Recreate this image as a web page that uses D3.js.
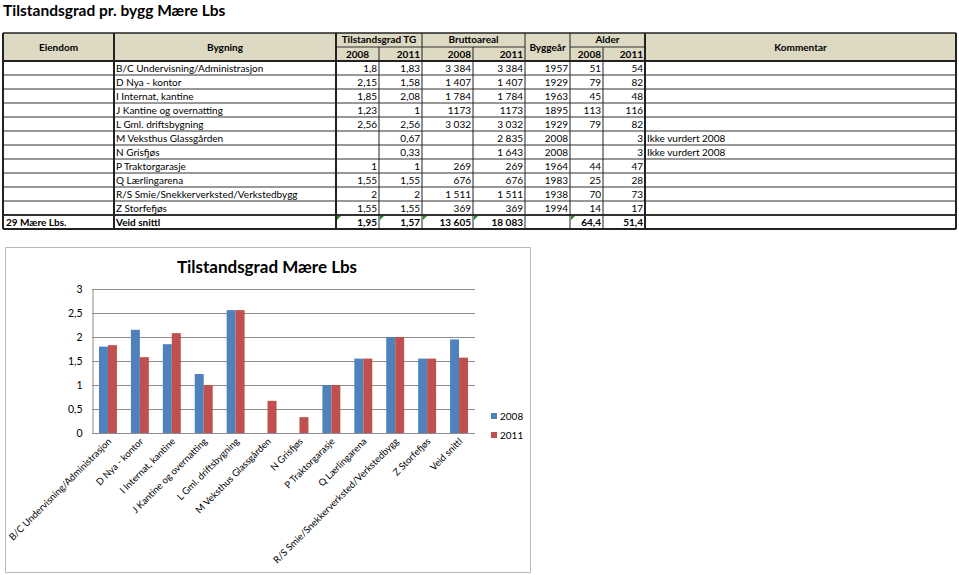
<!DOCTYPE html>
<html>
<head>
<meta charset="utf-8">
<script src="https://cdn.jsdelivr.net/npm/d3@7"></script>
<style>
  body { margin: 0; background: #fff; }
  svg { font-family: Lato, "Open Sans", sans-serif; }
</style>
</head>
<body>
<div id="chart"></div>
<script>
// table data, one entry per building
var buildings = ["B/C Undervisning/Administrasjon", "D Nya - kontor", "I Internat, kantine",
  "J Kantine og overnatting", "L Gml. driftsbygning", "M Veksthus Glassgården", "N Grisfjøs",
  "P Traktorgarasje", "Q Lærlingarena", "R/S Smie/Snekkerverksted/Verkstedbygg", "Z Storfefjøs"];
var tg2008 = [1.8, 2.15, 1.85, 1.23, 2.56, null, null, 1, 1.55, 2, 1.55];
var tg2011 = [1.83, 1.58, 2.08, 1, 2.56, 0.67, 0.33, 1, 1.55, 2, 1.55];
var area2008 = ["3 384", "1 407", "1 784", "1173", "3 032", "", "", "269", "676", "1 511", "369"];
var area2011 = ["3 384", "1 407", "1 784", "1173", "3 032", "2 835", "1 643", "269", "676", "1 511", "369"];
var builtYear = [1957, 1929, 1963, 1895, 1929, 2008, 2008, 1964, 1983, 1938, 1994];
var age2008 = [51, 79, 45, 113, 79, null, null, 44, 25, 70, 14];
var age2011 = [54, 82, 48, 116, 82, 3, 3, 47, 28, 73, 17];
var comments = ["", "", "", "", "", "Ikke vurdert 2008", "Ikke vurdert 2008", "", "", "", ""];

// summary row
var propertyName = "29 Mære Lbs.";
var avgLabel = "Veid snittl";
var avgTg = [1.95, 1.57];
var totalArea = ["13 605", "18 083"];
var avgAge = ["64,4", "51,4"];

// chart
var series = ["2008", "2011"];
var yTicks = [0, 0.5, 1, 1.5, 2, 2.5, 3];

var fmt = function(v) { return v == null ? "" : String(v).replace(".", ","); };

var W = 959, H = 575;
var svg = d3.select("#chart").append("svg").attr("width", W).attr("height", H);

svg.append("text").attr("x", 3).attr("y", 16)
  .style("font-size", "15.5px").style("font-weight", "bold").text("Tilstandsgrad pr. bygg Mære Lbs");

/* ---------- table ---------- */
// column edges: Eiendom, Bygning, TG08, TG11, BA08, BA11, Byggeår, Alder08, Alder11, Kommentar
var colX = [3, 114, 336, 379, 422, 473, 525, 570, 603, 645, 956];
var headTop = 33, headMid = 47, headBot = 61, rowH = 14;
var nRows = buildings.length + 1;
var tableBot = headBot + nRows * rowH;
var tbl = svg.append("g").style("font-size", "10px");

tbl.append("rect").attr("x", colX[0]).attr("y", headTop)
  .attr("width", colX[10] - colX[0]).attr("height", headBot - headTop).attr("fill", "#ddd9c3");

// row lines
d3.range(1, nRows).forEach(function(i) {
  var y = headBot + i * rowH;
  tbl.append("line").attr("x1", colX[0]).attr("x2", colX[10]).attr("y1", y).attr("y2", y)
    .attr("stroke", "#333").attr("stroke-width", i == nRows - 1 ? 2 : 1);
});
// header sub line
[[2, 4], [4, 6], [7, 9]].forEach(function(p) {
  tbl.append("line").attr("x1", colX[p[0]]).attr("x2", colX[p[1]]).attr("y1", headMid).attr("y2", headMid)
    .attr("stroke", "#333");
});
// vertical lines
colX.forEach(function(x, i) {
  var thick = (i <= 2 || i == 9 || i == 10);
  var y1 = headTop;
  if (i == 3 || i == 5 || i == 8) y1 = headMid;
  tbl.append("line").attr("x1", x).attr("x2", x).attr("y1", y1).attr("y2", tableBot)
    .attr("stroke", "#222").attr("stroke-width", thick ? 2 : 1);
});
// outer borders
tbl.append("line").attr("x1", colX[0]).attr("x2", colX[10]).attr("y1", headTop).attr("y2", headTop)
  .attr("stroke", "#222").attr("stroke-width", 1.5);
tbl.append("line").attr("x1", colX[0]).attr("x2", colX[10]).attr("y1", headBot).attr("y2", headBot)
  .attr("stroke", "#222").attr("stroke-width", 2);
tbl.append("line").attr("x1", colX[0]).attr("x2", colX[10]).attr("y1", tableBot).attr("y2", tableBot)
  .attr("stroke", "#222").attr("stroke-width", 2);

// header text
function headText(x, y, t, anchor) {
  tbl.append("text").attr("x", x).attr("y", y).attr("text-anchor", anchor || "middle")
    .style("font-weight", "bold").text(t);
}
var mid = function(a, b) { return (colX[a] + colX[b]) / 2; };
headText(mid(0, 1), 51, "Eiendom");
headText(mid(1, 2), 51, "Bygning");
headText(mid(2, 4), 43, "Tilstandsgrad TG");
headText(mid(4, 6), 43, "Bruttoareal");
headText(mid(6, 7), 51, "Byggeår");
headText(mid(7, 9), 43, "Alder");
headText(mid(9, 10), 51, "Kommentar");
headText(mid(2, 3), 58, "2008");
headText(colX[4] - 2, 58, "2011", "end");
headText(colX[5] - 2, 58, "2008", "end");
headText(colX[6] - 2, 58, "2011", "end");
headText(colX[8] - 2, 58, "2008", "end");
headText(colX[9] - 2, 58, "2011", "end");

// body
buildings.forEach(function(b, i) {
  var y = headBot + i * rowH + 11;
  var vals = [fmt(tg2008[i]), fmt(tg2011[i]), area2008[i], area2011[i], builtYear[i], fmt(age2008[i]), fmt(age2011[i])];
  tbl.append("text").attr("x", colX[1] + 2).attr("y", y).text(b);
  vals.forEach(function(v, j) {
    tbl.append("text").attr("x", colX[j + 3] - 2).attr("y", y).attr("text-anchor", "end").text(v);
  });
  tbl.append("text").attr("x", colX[9] + 2).attr("y", y).text(comments[i]);
});
var ySum = headBot + buildings.length * rowH + 11;
var sumVals = [fmt(avgTg[0]), fmt(avgTg[1]), totalArea[0], totalArea[1], "", avgAge[0], avgAge[1]];
tbl.append("text").attr("x", colX[0] + 3).attr("y", ySum).style("font-weight", "bold").text(propertyName);
tbl.append("text").attr("x", colX[1] + 2).attr("y", ySum).style("font-weight", "bold").text(avgLabel);
sumVals.forEach(function(v, j) {
  tbl.append("text").attr("x", colX[j + 3] - 2).attr("y", ySum).attr("text-anchor", "end")
    .style("font-weight", "bold").text(v);
  if (v !== "" && j < 6) {
    var x0 = colX[j + 2] + 1, y0 = headBot + buildings.length * rowH + 1;
    tbl.append("path").attr("d", "M" + x0 + "," + y0 + "h4l-4,4z").attr("fill", "#2a8a2a");
  }
});

/* ---------- chart ---------- */
var chartCats = buildings.concat([avgLabel]);
var chartData = [tg2008.concat([avgTg[0]]), tg2011.concat([avgTg[1]])];
var colors = ["#4f81bd", "#c0504d"];

svg.append("rect").attr("x", 5.5).attr("y", 247.5).attr("width", 525).attr("height", 325)
  .attr("fill", "#fff").attr("stroke", "#b8b8b8");

svg.append("text").attr("x", 267).attr("y", 273).attr("text-anchor", "middle")
  .style("font-size", "17px").style("font-weight", "bold").text("Tilstandsgrad Mære Lbs");

var plot = { left: 92, right: 475, top: 289, bottom: 433 };
var x = d3.scaleBand().domain(chartCats).range([plot.left, plot.right]);
var xs = d3.scaleBand().domain(series).range([0, x.bandwidth()]).paddingInner(0).paddingOuter(0.78);
var y = d3.scaleLinear().domain([0, 3]).range([plot.bottom, plot.top]);

var g = svg.append("g");
g.selectAll(".grid").data(yTicks.slice(1)).enter().append("line")
  .attr("x1", plot.left).attr("x2", plot.right)
  .attr("y1", function(d) { return Math.round(y(d)) + 0.5; })
  .attr("y2", function(d) { return Math.round(y(d)) + 0.5; })
  .attr("stroke", "#8c8c8c");

var yAxis = d3.axisLeft(y).tickValues(yTicks).tickSize(0).tickPadding(10)
  .tickFormat(function(d) { return fmt(d); });
g.append("g").attr("transform", "translate(" + (plot.left + 0.5) + ",0)").call(yAxis)
  .call(function(s) {
    s.select(".domain").attr("stroke", "#8c8c8c");
    s.selectAll("text").style("font-size", "10.5px").style("font-family", "Lato, sans-serif").attr("fill", "#000");
  });

series.forEach(function(s, si) {
  g.selectAll(".bar" + si).data(chartData[si]).enter().append("rect")
    .attr("x", function(d, i) { return x(chartCats[i]) + xs(s); })
    .attr("width", xs.bandwidth())
    .attr("y", function(d) { return y(d || 0); })
    .attr("height", function(d) { return plot.bottom - y(d || 0); })
    .attr("fill", colors[si]);
});

g.append("line").attr("x1", plot.left).attr("x2", plot.right)
  .attr("y1", plot.bottom + 0.5).attr("y2", plot.bottom + 0.5).attr("stroke", "#8c8c8c");

g.selectAll(".xl").data(chartCats).enter().append("text")
  .attr("transform", function(d) {
    return "translate(" + (x(d) + x.bandwidth() / 2 + 4) + "," + (plot.bottom + 9) + ") rotate(-45)";
  })
  .attr("text-anchor", "end").style("font-size", "9.5px").text(function(d) { return d; });

// legend
var leg = g.selectAll(".leg").data(series).enter().append("g")
  .attr("transform", function(d, i) { return "translate(491," + (413 + i * 19) + ")"; });
leg.append("rect").attr("width", 6).attr("height", 6).attr("fill", function(d, i) { return colors[i]; });
leg.append("text").attr("x", 9).attr("y", 7).style("font-size", "10px").text(function(d) { return d; });
</script>
</body>
</html>
